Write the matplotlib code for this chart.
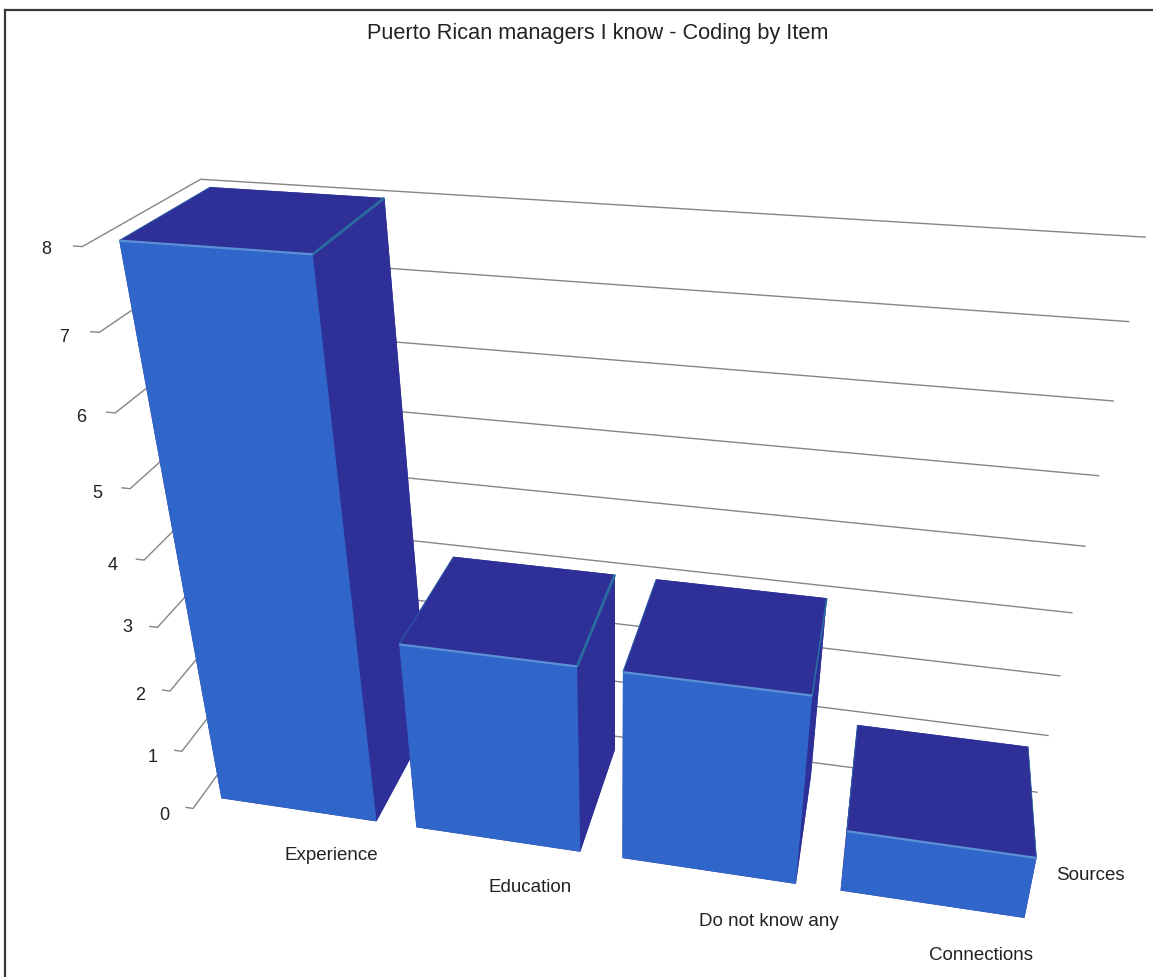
import numpy as np
import matplotlib
matplotlib.use("Agg")
import matplotlib.pyplot as plt
from matplotlib.lines import Line2D

# Chart data
title = "Puerto Rican managers I know - Coding by Item"
categories = ["Experience", "Education", "Do not know any", "Connections"]
counts = [8, 3, 3, 1]
value_ticks = [0, 1, 2, 3, 4, 5, 6, 7, 8]
series_name = "Sources"

# Bar footprint inside each category slot (x) and across the floor (depth)
BAR_GAP = 0.10
DEPTH_FRONT = 0.10
DEPTH_BACK = 0.89

# Pixel canvas
WIDTH, HEIGHT = 1153, 977

# Perspective camera: (category, depth, value, 1) -> homogeneous canvas pixels
CAMERA = np.array([
    [185.509856, 118.766328, -15.986548, 193.144173],
    [6.819291, -31.057581, -76.627809, 808.47529],
    [-0.027213, 0.124519, -0.025929, 1.0],
])

FRONT_COLOR = "#3066CA"
DARK_COLOR = "#2E3097"
TOP_FRONT_EDGE = "#5C90D6"
TOP_SIDE_EDGE = "#2A6CA0"
TOP_LEFT_EDGE = "#2C58A6"
GRID_COLOR = "#858585"
TEXT_COLOR = "#222222"
BORDER_COLOR = "#3A3A3A"

# The sheen on the right top edge fades towards the right of the chart
side_edge_widths = [2.0, 2.0, 1.2, 0.5]

plt.rcParams["font.family"] = ["Liberation Sans", "DejaVu Sans"]

fig = plt.figure(figsize=(WIDTH / 100, HEIGHT / 100), dpi=100, facecolor="white")
ax = fig.add_axes([0, 0, 1, 1], projection="3d", computed_zorder=False)
ax.set_axis_off()


def camera_projection():
    """Projection into the axes' own 2D data space, using the fixed camera."""
    to_data = ax.transData.inverted()
    (x0, y0), (x1, y1) = to_data.transform([(0, HEIGHT), (WIDTH, 0)])
    sx, sy = (x1 - x0) / WIDTH, (y1 - y0) / HEIGHT
    row_x = sx * CAMERA[0] + x0 * CAMERA[2]
    row_y = sy * CAMERA[1] + y0 * CAMERA[2]
    # Third row only orders faces by depth; it stays negative so nothing is culled
    return np.array([row_x, row_y, [0, 1, 0, -2], CAMERA[2]])


ax.get_proj = camera_projection

n_slots = len(categories)

# Back wall gridlines, side wall lines and the small tick stubs
for v in value_ticks:
    ax.plot([-0.04, 0, 0, n_slots], [0, 0, 1, 1], [v, v, v, v],
            color=GRID_COLOR, lw=1.0, zorder=1, clip_on=False,
            solid_capstyle="butt")

# Bars, left to right so that nearer ones paint over their neighbours
face_colors = [DARK_COLOR, DARK_COLOR, FRONT_COLOR, DARK_COLOR, DARK_COLOR, DARK_COLOR]
for i, value in enumerate(counts):
    left, right = i + BAR_GAP, i + 1 - BAR_GAP
    z = 2 + i * 0.1
    bar = ax.bar3d([left], [DEPTH_FRONT], [0], [right - left],
                   [DEPTH_BACK - DEPTH_FRONT], [value],
                   color=face_colors, shade=False, zorder=z, linewidth=0.3,
                   edgecolor=None)
    bar.set_clip_on(False)
    ax.plot([left, left], [DEPTH_FRONT, DEPTH_BACK], [value] * 2,
            color=TOP_LEFT_EDGE, lw=0.8, zorder=z + 0.01, clip_on=False,
            solid_capstyle="butt")
    ax.plot([right, right], [DEPTH_FRONT, DEPTH_BACK], [value] * 2,
            color=TOP_SIDE_EDGE, lw=side_edge_widths[i], zorder=z + 0.01,
            clip_on=False, solid_capstyle="butt")
    ax.plot([left, right], [DEPTH_FRONT] * 2, [value] * 2,
            color=TOP_FRONT_EDGE, lw=1.6, zorder=z + 0.02, clip_on=False,
            solid_capstyle="butt")


def canvas_text(px, py, text, size):
    fig.text(px / WIDTH, 1 - py / HEIGHT, text, fontsize=size, color=TEXT_COLOR,
             ha="center", va="center")


canvas_text(598, 33, title, 15.7)

tick_label_spots = [(164, 816), (153, 758), (140, 696), (127, 628), (113, 565),
                    (97, 494), (81, 417), (64, 337), (46, 250)]
for (px, py), v in zip(tick_label_spots, value_ticks):
    canvas_text(px, py, str(v), 13)

label_spots = [(331, 856), (530, 887), (769, 921), (981, 955)]
for (px, py), name in zip(label_spots, categories):
    canvas_text(px, py, name, 13.5)
canvas_text(1090, 875, series_name, 13.5)

# Frame along the top and left of the canvas
fig.add_artist(Line2D([5 / WIDTH, 1], [1 - 10 / HEIGHT] * 2, color=BORDER_COLOR, lw=1.6))
fig.add_artist(Line2D([5 / WIDTH] * 2, [0, 1 - 10 / HEIGHT], color=BORDER_COLOR, lw=1.6))

fig.savefig("out.png", dpi=100, facecolor="white")
